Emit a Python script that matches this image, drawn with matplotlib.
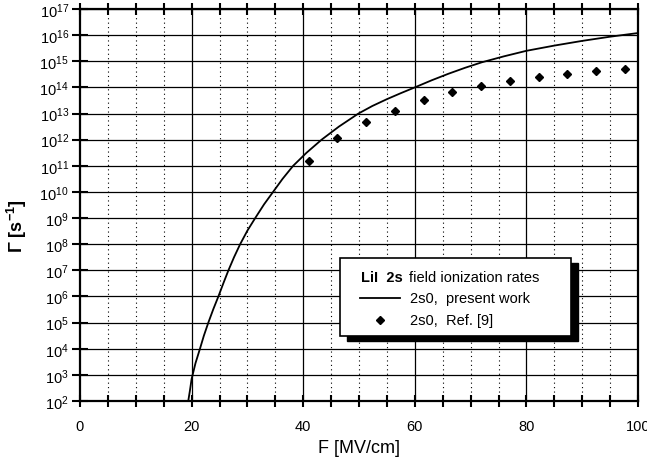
import math
import matplotlib
matplotlib.use("Agg")
import matplotlib.pyplot as plt
from matplotlib.ticker import MultipleLocator, FixedLocator, FuncFormatter
from matplotlib.patches import Rectangle
from matplotlib.lines import Line2D

plt.rcParams['font.family'] = ['Liberation Sans', 'DejaVu Sans']
plt.rcParams['mathtext.fontset'] = 'custom'
plt.rcParams['mathtext.rm'] = 'Liberation Sans'
plt.rcParams['mathtext.it'] = 'Liberation Sans:italic'
plt.rcParams['mathtext.bf'] = 'Liberation Sans:bold'

# Present work curve (F in MV/cm, log10 Gamma)
curve_F = [19.4, 19.7, 20.0, 20.7, 21.5, 22.2, 23.0, 23.9, 24.8, 25.7, 26.6,
           27.6, 28.7, 30.0, 31.4, 33.0, 34.6, 36.3, 38.2, 40.6, 43.3, 46.4,
           49.9, 52.4, 55.0, 57.5, 60.0, 63.0, 66.0, 69.0, 72.0, 76.0, 80.0,
           85.0, 90.0, 95.0, 100.0]
curve_logG = [2.0, 2.4, 2.84, 3.45, 4.0, 4.5, 5.0, 5.52, 6.0, 6.51, 7.0,
              7.5, 8.0, 8.52, 9.0, 9.53, 10.0, 10.5, 11.0, 11.5, 12.0, 12.5,
              13.0, 13.29, 13.55, 13.78, 14.0, 14.27, 14.52, 14.75, 14.96, 15.19, 15.4,
              15.6, 15.78, 15.94, 16.08]

# Ref. [9] points
ref_F = [41.1, 46.1, 51.3, 56.4, 61.6, 66.7, 71.9, 77.1, 82.2, 87.3, 92.5, 97.6]
ref_logG = [11.2, 12.05, 12.69, 13.08, 13.53, 13.81, 14.04, 14.23, 14.40, 14.51, 14.63, 14.72]

x_ticks = [0, 20, 40, 60, 80, 100]
y_decades = list(range(2, 18))

fig = plt.figure(figsize=(6.47, 4.64), dpi=100)
ax = fig.add_axes([80/647, 1-402/464, (638-80)/647, (402-10)/464])

ax.set_xlim(0, 100)
ax.set_ylim(1e2, 1e17)
ax.set_yscale('log')

# grid
for d in y_decades:
    ax.axhline(10.0**d, color='black', lw=0.9, zorder=1)
for x in range(5, 100, 5):
    if x % 20 == 0:
        ax.axvline(x, color='black', lw=0.9, zorder=1)
    else:
        ax.axvline(x, color='black', lw=0.8, ls=(0, (1, 3)), zorder=1)

ax.plot(curve_F, [10.0**v for v in curve_logG], color='black', lw=1.3, zorder=3,
        solid_joinstyle='round')
ax.plot(ref_F, [10.0**v for v in ref_logG], ls='none', marker='D', ms=4.2,
        color='black', zorder=3)

ax.xaxis.set_major_locator(FixedLocator(x_ticks))
ax.xaxis.set_minor_locator(MultipleLocator(5))
ax.yaxis.set_major_locator(FixedLocator([10.0**d for d in y_decades]))
ax.yaxis.set_minor_locator(FixedLocator([]))
ax.yaxis.set_major_formatter(FuncFormatter(
    lambda v, p: r'$\mathdefault{10^{%d}}$' % round(math.log10(v))))

ax.tick_params(axis='x', which='both', direction='inout', length=8, width=1.5,
               top=True, labelsize=10.5, pad=9)
ax.tick_params(axis='y', which='major', direction='inout', length=12, width=1.5,
               labelsize=10.5, pad=2)
for sp in ax.spines.values():
    sp.set_linewidth(1.6)

ax.set_xlabel('F [MV/cm]', fontsize=13, labelpad=4)
ax.set_ylabel(r'$\mathbf{\Gamma}$ [s$^{\mathbf{-1}}$]', fontsize=13, fontweight='bold',
              va='center')
ax.yaxis.set_label_coords(-0.113, 0.45)

# legend box with shadow
x0, y0 = 340/647, 1-337/464
w, h = (571-340)/647, (337-259)/464
shadow = Rectangle((x0+7/647, y0-5/464), w, h, transform=fig.transFigure,
                   facecolor='black', edgecolor='black', zorder=5)
box = Rectangle((x0, y0), w, h, transform=fig.transFigure,
                facecolor='white', edgecolor='black', lw=1.2, zorder=6)
fig.add_artist(shadow)
fig.add_artist(box)
fig.text(361/647, 1-278/464, 'LiI  2s', fontsize=10.5, fontweight='bold',
         va='center', ha='left', zorder=7)
fig.text(409/647, 1-278/464, 'field ionization rates', fontsize=10.5,
         va='center', ha='left', zorder=7)
fig.add_artist(Line2D([360/647, 400/647], [1-299/464, 1-299/464],
                      transform=fig.transFigure, color='black', lw=1.3, zorder=7))
fig.text(410/647, 1-299/464, '2s0,  present work', fontsize=10.5,
         va='center', ha='left', zorder=7)
fig.add_artist(Line2D([380/647], [1-321/464], transform=fig.transFigure,
                      marker='D', ms=4, color='black', ls='none', zorder=7))
fig.text(410/647, 1-321/464, '2s0,  Ref. [9]', fontsize=10.5,
         va='center', ha='left', zorder=7)

fig.savefig('out.png', dpi=100)
